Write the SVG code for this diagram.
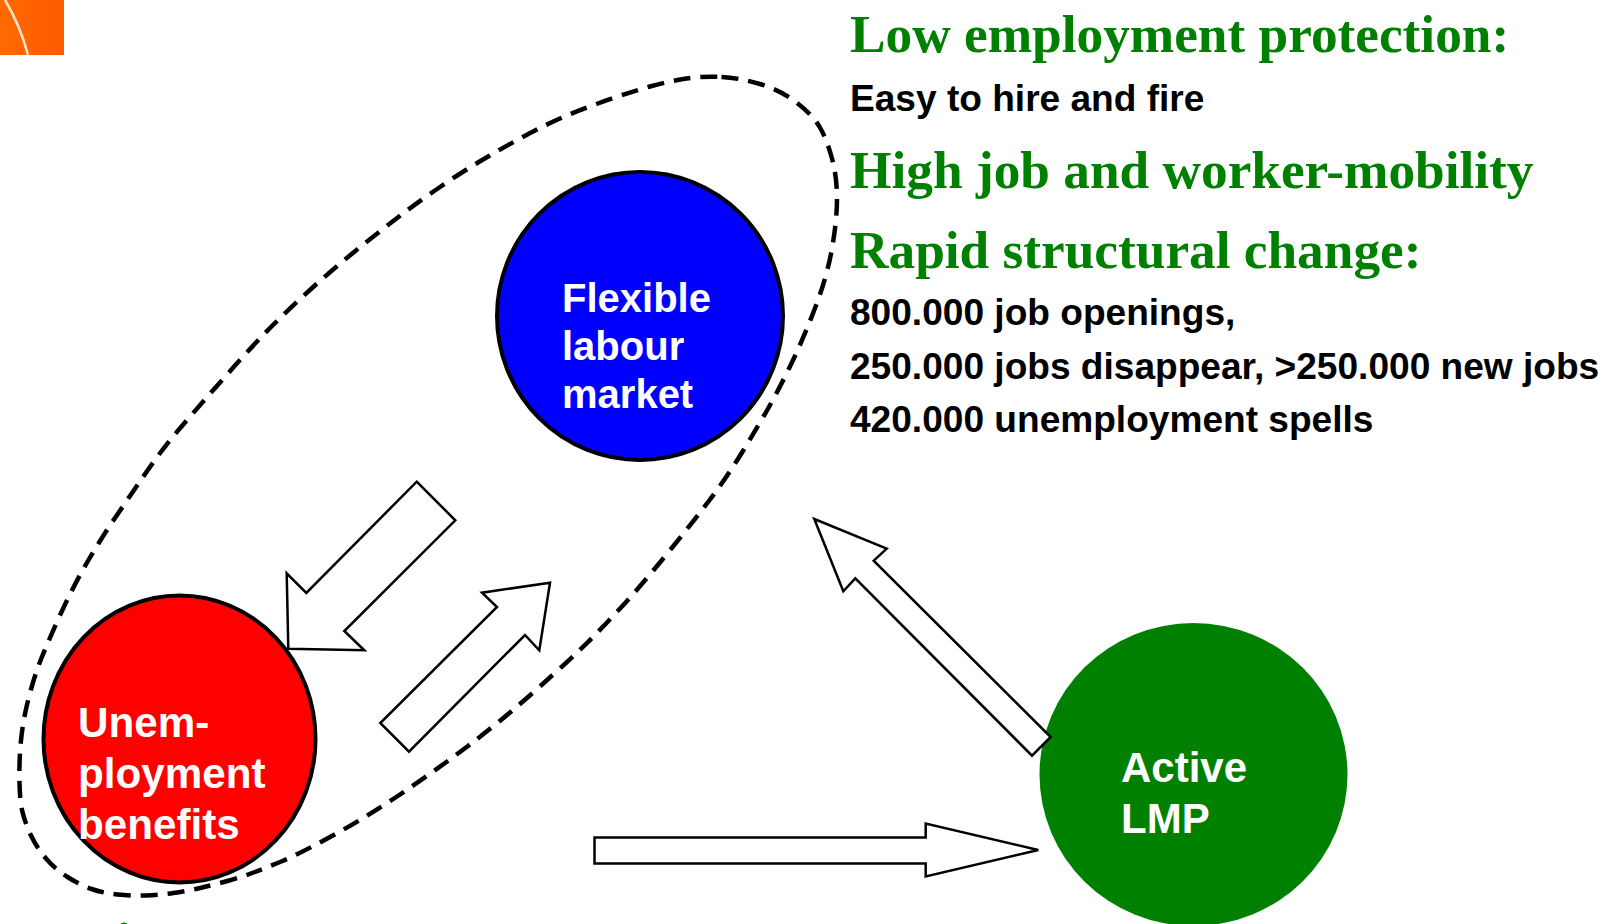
<svg xmlns="http://www.w3.org/2000/svg" width="1604" height="924" viewBox="0 0 1604 924">
<defs>
<linearGradient id="logo" x1="0" x2="1" y1="0" y2="0"><stop offset="0" stop-color="#ff6a00"/><stop offset="1" stop-color="#ff5a00"/></linearGradient>
</defs>
<style>
.h{font-family:"Liberation Serif",serif;font-weight:700;font-size:53.300px;fill:#008000}
.b{font-family:"Liberation Sans",Arial,sans-serif;font-weight:700;font-size:37.100px;fill:#000}
.n{font-family:"Liberation Sans",Arial,sans-serif;font-weight:700;fill:#fff}
.arrow{fill:#fff;stroke:#000;stroke-width:2.500;stroke-linejoin:miter}
.node{stroke:#000;stroke-width:4}
</style>
<rect width="1604" height="924" fill="#fff"/>
<g id="logo-mark"><rect x="0" y="0" width="64" height="55" fill="url(#logo)"/><path d="M5 0Q20 25 28 55" fill="none" stroke="#ffe6cc" stroke-width="2.500"/></g>
<ellipse cx="124" cy="924" rx="3" ry="1.500" fill="#008000"/>
<g id="node-red"><ellipse class="node" cx="179.500" cy="739" rx="136" ry="143.500" fill="#f00"/><text class="n" font-size="42.200"><tspan x="78" y="737">Unem-</tspan><tspan x="78" y="788">ployment</tspan><tspan x="78" y="839">benefits</tspan></text></g>
<g id="node-blue"><ellipse class="node" cx="640" cy="316" rx="143" ry="144" fill="#00f"/><text class="n" font-size="40"><tspan x="562" y="312">Flexible</tspan><tspan x="562" y="360">labour</tspan><tspan x="562" y="408">market</tspan></text></g>
<g id="node-green"><ellipse cx="1193.500" cy="774.500" rx="154" ry="151.500" fill="#008000"/><text class="n" font-size="42"><tspan x="1121" y="782">Active</tspan><tspan x="1121" y="833">LMP</tspan></text></g>
<g id="connectors">
<path d="M721.500,77Q740,78 760,84Q780,90 796.500,102.500Q813,115 820,127.500Q827,140 832,158.500Q837,177 837,198.500Q837,220 832,248.500Q827,277 814.500,309.500Q802,342 789.500,367.500Q777,393 767,410.500Q757,428 742,452.500Q727,477 710,499.500Q693,522 666.500,554.500Q640,587 621,607.500Q602,628 587.500,642.500Q573,657 536.500,689.500Q500,722 466,747.500Q432,773 398.500,795.500Q365,818 331,836.500Q297,855 282.500,861Q268,867 255,872Q242,877 227.500,881Q213,885 200,888Q187,891 173.500,893Q160,895 146,895.500Q132,896 117.500,894.500Q103,893 91.500,889Q80,885 67.500,877Q55,869 46,858.500Q37,848 31,835.500Q25,823 22,810Q19,797 19.500,766Q20,735 26.500,707Q33,679 41.500,658Q50,637 61.500,612Q73,587 86.500,563.500Q100,540 116,516.500Q132,493 147.500,470.500Q163,448 181.500,426.500Q200,405 227.500,374Q255,343 272.500,325.500Q290,308 311,289Q332,270 353.500,252.500Q375,235 396.500,218.500Q418,202 441.500,186Q465,170 489,156Q513,142 538,129Q563,116 596.500,104Q630,92 650,86.500Q670,81 686.500,78.500Q703,76 721.500,77Z" fill="none" stroke="#000" stroke-width="4.500" stroke-dasharray="17 10"/>
<polygon class="arrow" points="416.700,481.700 455.300,520.300 344.300,631 364.300,650.300 288.300,648.700 286.700,573.300 306.300,593"/>
<polygon class="arrow" points="550,582.700 539.300,650.300 525,635 409,751.700 380.300,723 497,607 482,592.700"/>
<polygon class="arrow" points="814.300,519 886.700,548.700 873.700,560.700 1050.700,737 1032,755.700 855.300,578.300 843.300,591.300"/>
<polygon class="arrow" points="1038.300,850 925.700,823.500 925.700,837.500 594.500,837.500 594.500,863.500 925.700,863.500 925.700,876.500"/>
</g>
<g id="text-panel">
<text class="h" x="850" y="51.500">Low employment protection:</text>
<text class="b" x="850" y="111">Easy to hire and fire</text>
<text class="h" x="850" y="188">High job and worker-mobility</text>
<text class="h" x="850" y="268">Rapid structural change:</text>
<text class="b" x="850" y="325">800.000 job openings,</text>
<text class="b" x="850" y="379">250.000 jobs disappear, &gt;250.000 new jobs</text>
<text class="b" x="850" y="432">420.000 unemployment spells</text>
</g>
</svg>
